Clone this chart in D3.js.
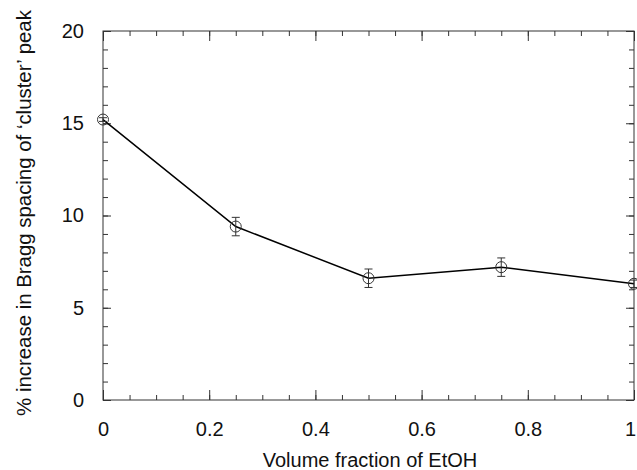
<!DOCTYPE html>
<html lang="en">
<head>
<meta charset="UTF-8">
<title>Bragg spacing vs EtOH</title>
<script src="https://d3js.org/d3.v7.min.js"></script>
<style>
  body { margin: 0; background: #fff; }
  svg text { font-family: "Liberation Sans", Arial, sans-serif; fill: #111; }
</style>
</head>
<body>
<div id="chart"></div>
<script>
// data
const fraction = [0, 0.25, 0.5, 0.75, 1];
const increase = [15.2, 9.4, 6.6, 7.2, 6.3];
const errorBar = [0.1, 0.5, 0.5, 0.5, 0.2];
const xTicks = [0, 0.2, 0.4, 0.6, 0.8, 1];
const yTicks = [0, 5, 10, 15, 20];

const W = 637, H = 470;
const margin = { top: 31, right: 3, bottom: 70, left: 103 };
const width = W - margin.left - margin.right;
const height = H - margin.top - margin.bottom;

const svg = d3.select("#chart").append("svg")
    .attr("width", W).attr("height", H);
const g = svg.append("g")
    .attr("transform", `translate(${margin.left},${margin.top})`);

const x = d3.scaleLinear().domain([0, 1]).range([0, width]);
const y = d3.scaleLinear().domain([0, 20]).range([height, 0]);

const xMinor = d3.range(0, 1.0001, 0.05);
const yMinor = d3.range(0, 20.001, 1);

// frame
g.append("rect")
    .attr("width", width).attr("height", height)
    .attr("fill", "none").attr("stroke", "#333").attr("stroke-width", 1);

function styleAxis(sel) {
    sel.select(".domain").remove();
    sel.selectAll("line").attr("stroke", "#333");
}

// minor ticks, all four sides, pointing in
g.append("g").attr("transform", `translate(0,${height})`)
    .call(d3.axisBottom(x).tickValues(xMinor).tickSize(-5).tickFormat(""))
    .call(styleAxis);
g.append("g")
    .call(d3.axisTop(x).tickValues(xMinor).tickSize(-5).tickFormat(""))
    .call(styleAxis);
g.append("g")
    .call(d3.axisLeft(y).tickValues(yMinor).tickSize(-5).tickFormat(""))
    .call(styleAxis);
g.append("g").attr("transform", `translate(${width},0)`)
    .call(d3.axisRight(y).tickValues(yMinor).tickSize(-5).tickFormat(""))
    .call(styleAxis);

// major ticks with labels
const xAx = g.append("g").attr("transform", `translate(0,${height})`)
    .call(d3.axisBottom(x).tickValues(xTicks).tickSize(-10).tickPadding(22).tickFormat(d3.format("")))
    .call(styleAxis);
xAx.selectAll("text").attr("font-size", 20);
// last label sits against the window edge
xAx.selectAll("text").filter(d => d === 1).attr("dx", -4);
g.append("g")
    .call(d3.axisTop(x).tickValues(xTicks).tickSize(-10).tickFormat(""))
    .call(styleAxis);
g.append("g")
    .call(d3.axisLeft(y).tickValues(yTicks).tickSize(-8).tickPadding(19).tickFormat(d3.format("")))
    .call(styleAxis)
    .selectAll("text").attr("font-size", 20);
g.append("g").attr("transform", `translate(${width},0)`)
    .call(d3.axisRight(y).tickValues(yTicks).tickSize(-8).tickFormat(""))
    .call(styleAxis);

const pts = fraction.map((f, i) => ({ x: f, y: increase[i], e: errorBar[i] }));

// line
g.append("path").datum(pts)
    .attr("fill", "none").attr("stroke", "#000").attr("stroke-width", 1.5)
    .attr("d", d3.line().x(d => x(d.x)).y(d => y(d.y)));

// error bars
const eb = g.append("g").attr("stroke", "#333").attr("stroke-width", 1);
eb.selectAll(".v").data(pts).join("line")
    .attr("x1", d => x(d.x)).attr("x2", d => x(d.x))
    .attr("y1", d => y(d.y - d.e)).attr("y2", d => y(d.y + d.e));
eb.selectAll(".t").data(pts).join("line")
    .attr("x1", d => x(d.x) - 4).attr("x2", d => x(d.x) + 4)
    .attr("y1", d => y(d.y + d.e)).attr("y2", d => y(d.y + d.e));
eb.selectAll(".b").data(pts).join("line")
    .attr("x1", d => x(d.x) - 4).attr("x2", d => x(d.x) + 4)
    .attr("y1", d => y(d.y - d.e)).attr("y2", d => y(d.y - d.e));

// open circle markers
g.selectAll(".pt").data(pts).join("circle")
    .attr("cx", d => x(d.x)).attr("cy", d => y(d.y)).attr("r", 5.5)
    .attr("fill", "none").attr("stroke", "#333").attr("stroke-width", 1);

// axis titles
svg.append("text")
    .attr("x", 370).attr("y", 467)
    .attr("text-anchor", "middle").attr("font-size", 20)
    .text("Volume fraction of EtOH");
svg.append("text")
    .attr("transform", "translate(31,213) rotate(-90)")
    .attr("text-anchor", "middle").attr("font-size", 20.4)
    .text("% increase in Bragg spacing of \u2018cluster\u2019 peak");
</script>
</body>
</html>
